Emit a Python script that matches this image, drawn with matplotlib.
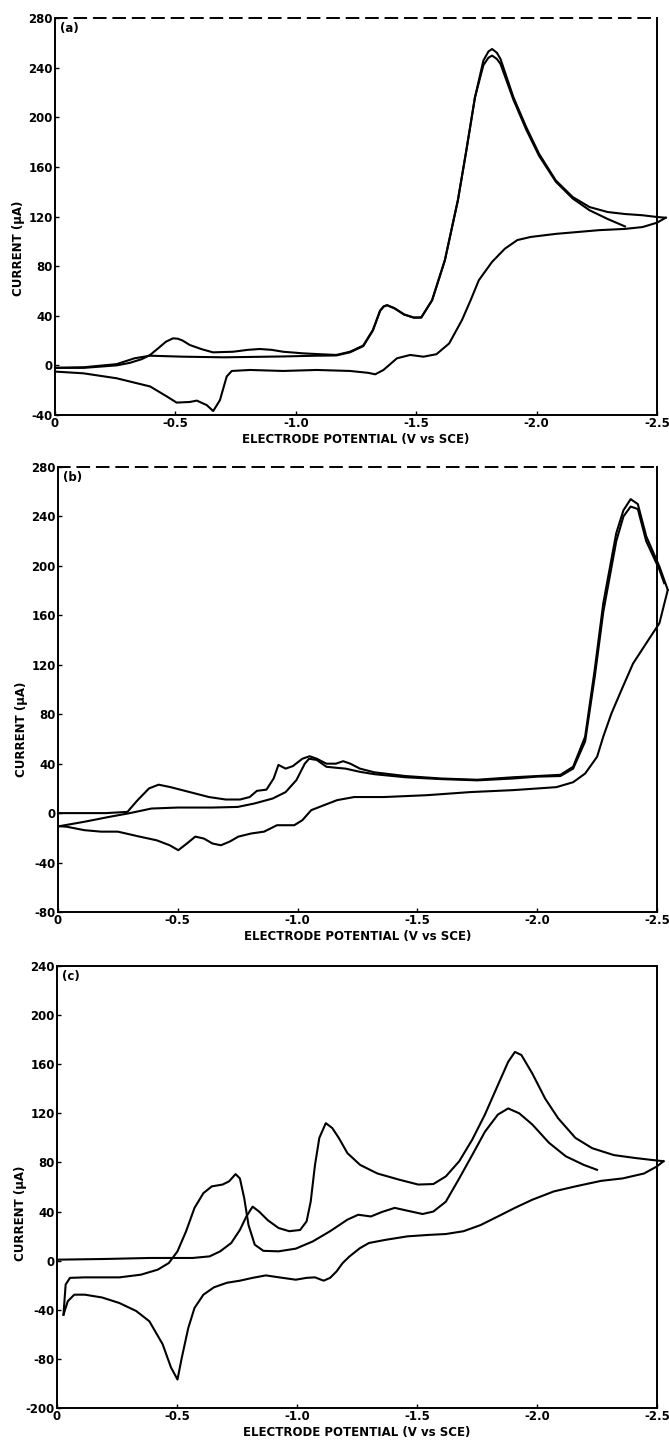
import matplotlib
matplotlib.use("Agg")
import matplotlib.pyplot as plt

# ---------------- data: panel (a) ----------------
a_fwd1_E = [0.0, -0.12, -0.256, -0.31, -0.36, -0.395, -0.43, -0.46, -0.49, -0.51, -0.53, -0.56,
            -0.61, -0.656, -0.74, -0.80, -0.85, -0.90, -0.947, -1.03, -1.10, -1.168, -1.225,
            -1.28, -1.32, -1.35, -1.365, -1.379, -1.41, -1.45, -1.49, -1.521, -1.566, -1.619,
            -1.673, -1.708, -1.744, -1.779, -1.80, -1.815, -1.835, -1.85, -1.904, -1.957,
            -2.01, -2.08, -2.15, -2.22, -2.295, -2.367, -2.44, -2.5, -2.536]
a_fwd1_I = [-2, -2, 0, 2, 5, 8.4, 14, 19, 21.8, 21.5, 20, 16.4,
            13, 10.5, 11, 12.5, 13.2, 12.5, 11, 9.7, 9, 8.4, 11,
            16, 28.5, 44, 47.5, 48.5, 46, 41, 38.5, 38.6, 52.5, 84.7,
            133, 173, 216, 245.7, 253, 255, 252, 247, 216, 192,
            170.6, 149, 135.7, 127.6, 123.6, 122, 121, 119.6, 119]

a_rev_E = [-2.536, -2.5, -2.44, -2.367, -2.26, -2.08, -1.975, -1.92, -1.868, -1.815, -1.76,
           -1.726, -1.69, -1.637, -1.584, -1.53, -1.475, -1.42, -1.364, -1.33, -1.30, -1.225,
           -1.087, -0.947, -0.81, -0.734, -0.713, -0.685, -0.657, -0.63, -0.589, -0.56,
           -0.505, -0.464, -0.395, -0.256, -0.118, 0.0]
a_rev_I = [119, 115, 111.5, 110, 109, 106, 103.5, 101, 94, 83.4, 68.6,
           52.5, 36.5, 17.7, 9, 7, 8.4, 5.7, -3.7, -7.2, -6, -4.5,
           -3.7, -4.5, -3.7, -4.5, -9, -28, -36.8, -32, -28.4, -29.5,
           -30, -25, -17, -10.4, -6.4, -5]

a_fwd2_E = [0.0, -0.12, -0.256, -0.33, -0.395, -0.532, -0.70, -0.81, -0.95, -1.087, -1.168,
            -1.225, -1.28, -1.32, -1.35, -1.365, -1.379, -1.41, -1.45, -1.49, -1.521, -1.566,
            -1.619, -1.673, -1.708, -1.744, -1.779, -1.80, -1.815, -1.835, -1.85, -1.904,
            -1.957, -2.01, -2.08, -2.15, -2.22, -2.295, -2.367]
a_fwd2_I = [-2, -1.5, 1, 5.7, 7.8, 7, 6.5, 6.8, 7.2, 7.8, 8,
            10.5, 15.5, 28, 44, 47.5, 48.5, 46, 41, 38.5, 38.6, 52.5,
            84.7, 133, 173, 216, 242, 248, 249.7, 247, 243, 214,
            190, 169, 148, 134.5, 125, 118, 112]

# ---------------- data: panel (b) ----------------
b_fwd1_E = [0.0, -0.1, -0.2, -0.29, -0.33, -0.38, -0.42, -0.47, -0.55, -0.63, -0.70, -0.76,
            -0.80, -0.83, -0.87, -0.90, -0.92, -0.95, -0.98, -1.02, -1.05, -1.08, -1.12,
            -1.16, -1.19, -1.22, -1.26, -1.32, -1.45, -1.6, -1.75, -1.9, -2.0, -2.097, -2.15,
            -2.20, -2.24, -2.276, -2.33, -2.36, -2.39, -2.42, -2.455, -2.51, -2.545]
b_fwd1_I = [0, 0, 0, 1, 10, 20, 23, 21, 17, 13, 11, 11,
            13, 18, 19, 28, 39, 36, 38, 44, 46, 44, 40,
            40, 42, 40, 36, 33, 30, 28, 27, 29, 30, 31, 37.5,
            61.8, 116, 170, 226.5, 245, 254, 250, 224, 199.5, 180.6]

b_rev_E = [-2.545, -2.51, -2.455, -2.4, -2.357, -2.31, -2.276, -2.25, -2.2, -2.15, -2.08,
           -1.9, -1.72, -1.54, -1.36, -1.236, -1.165, -1.11, -1.057, -1.02, -0.986, -0.914,
           -0.86, -0.806, -0.753, -0.717, -0.68, -0.645, -0.609, -0.573, -0.538, -0.502,
           -0.466, -0.412, -0.34, -0.25, -0.18, -0.11, -0.036, -0.005]
b_rev_I = [180.6, 153.6, 137.4, 121, 102, 80.7, 62, 45.6, 32, 25, 21,
           18.6, 17, 14.5, 13, 13, 10.5, 6.4, 2.4, -5.7, -9.8, -9.8,
           -15, -16.5, -19, -23, -26, -24.6, -20.6, -19, -24.6, -30,
           -26, -22, -19, -15, -15, -13.8, -11, -10.6]

b_fwd2_E = [-0.005, -0.11, -0.215, -0.3, -0.39, -0.5, -0.645, -0.75, -0.82, -0.896, -0.95,
            -0.995, -1.03, -1.048, -1.08, -1.12, -1.16, -1.2, -1.26, -1.32, -1.45, -1.6,
            -1.75, -1.9, -2.0, -2.097, -2.15, -2.20, -2.24, -2.276, -2.33, -2.36, -2.39,
            -2.42, -2.455, -2.51, -2.53]
b_fwd2_I = [-10.6, -7, -3, 0, 3.7, 4.5, 4.5, 5, 7.8, 11.8, 17,
            26.7, 40, 44, 43, 37.5, 36.7, 36, 33.4, 31.5, 29, 27.5,
            26.5, 28, 29.5, 30, 36,
            58, 110, 163, 220, 240, 248, 246, 220, 197, 186]

# ---------------- data: panel (c) ----------------
c_fwd1_E = [0.0, -0.206, -0.385, -0.565, -0.636, -0.68, -0.726, -0.762, -0.789, -0.815, -0.842,
            -0.878, -0.923, -0.968, -1.013, -1.04, -1.057, -1.075, -1.093, -1.12, -1.147,
            -1.174, -1.21, -1.263, -1.335, -1.425, -1.505, -1.568, -1.62, -1.676, -1.73,
            -1.783, -1.837, -1.88, -1.908, -1.935, -1.98, -2.034, -2.088, -2.16, -2.23,
            -2.32, -2.41, -2.48, -2.527]
c_fwd1_I = [0.8, 1.4, 2.2, 2.2, 3.5, 7.6, 14.4, 25, 36, 44, 40,
            33, 26.6, 24, 25, 32, 48, 78, 100, 112, 108,
            100, 87.6, 78, 71, 66, 62, 62.4, 68.6, 81, 98.5,
            119, 143, 162, 170, 167.5, 152.6, 132, 116, 100, 91.6,
            86, 83.6, 82, 81]

c_rev_E = [-2.527, -2.5, -2.446, -2.357, -2.267, -2.16, -2.07, -1.98, -1.908, -1.837, -1.765,
           -1.694, -1.62, -1.55, -1.46, -1.37, -1.3, -1.263, -1.219, -1.19, -1.165, -1.138,
           -1.111, -1.075, -1.04, -0.995, -0.94, -0.87, -0.815, -0.762, -0.708, -0.654,
           -0.61, -0.573, -0.547, -0.52, -0.502, -0.475, -0.44, -0.385, -0.33, -0.26,
           -0.188, -0.116, -0.072, -0.045, -0.027]
c_rev_I = [81, 76.8, 71, 67, 65, 60.5, 56.4, 49.6, 43, 36, 29,
           24, 21.7, 21, 19.8, 17, 14.4, 10.3, 3.5, -2, -8.7, -14,
           -16.3, -13.6, -14, -15.5, -14, -12, -14, -16.3, -18, -21.7,
           -27.7, -38.5, -54.8, -79, -96.8, -87, -68, -49.4, -41, -34.5,
           -30, -27.7, -27.7, -33, -44]

c_fwd2_E = [-0.027, -0.036, -0.054, -0.116, -0.26, -0.35, -0.42, -0.466, -0.502, -0.538,
            -0.573, -0.61, -0.645, -0.69, -0.717, -0.744, -0.762, -0.78, -0.798, -0.824,
            -0.86, -0.923, -0.995, -1.066, -1.138, -1.21, -1.255, -1.308, -1.353, -1.407,
            -1.46, -1.523, -1.568, -1.62, -1.676, -1.73, -1.783, -1.837, -1.88, -1.926,
            -1.98, -2.05, -2.12, -2.195, -2.25]
c_fwd2_I = [-44, -19.5, -14, -13.6, -13.6, -11.4, -7.3, -1.9, 7.6, 24,
            43, 55, 60.5, 62, 64.6, 70.5, 67, 51, 29, 13,
            8, 7.6, 9.8, 15.7, 24, 33.4, 37.4, 36, 39.6, 43,
            40.7, 38, 40, 48, 67, 86, 105, 119, 124, 120,
            111, 96, 85, 78, 74]

# ---------------- axis ticks / labels ----------------
x_ticks = [0.0, -0.5, -1.0, -1.5, -2.0, -2.5]
x_ticklabels = ["0", "-0.5", "-1.0", "-1.5", "-2.0", "-2.5"]
a_yticks = [-40, 0, 40, 80, 120, 160, 200, 240, 280]
a_yticklabels = ["-40", "0", "40", "80", "120", "160", "200", "240", "280"]
b_yticks = [-80, -40, 0, 40, 80, 120, 160, 200, 240, 280]
b_yticklabels = ["-80", "-40", "0", "40", "80", "120", "160", "200", "240", "280"]
c_yticks = [-120, -80, -40, 0, 40, 80, 120, 160, 200, 240]
c_yticklabels = ["-200", "-80", "-40", "0", "40", "80", "120", "160", "200", "240"]
panel_tags = ["(a)", "(b)", "(c)"]
x_label = "ELECTRODE POTENTIAL (V vs SCE)"
y_label = "CURRENT (\u00b5A)"

plt.rcParams['font.family'] = ['DejaVu Sans']
plt.rcParams['font.weight'] = 'bold'

W, H = 669, 1446
fig = plt.figure(figsize=(W / 100, H / 100), dpi=100)

def rect(left, right, top, bottom):
    return [left / W, (H - bottom) / H, (right - left) / W, (bottom - top) / H]

axes_rects = [rect(55, 657, 18, 415), rect(58, 657, 467, 912), rect(57, 657, 966, 1408)]
ylims = [(-40, 280), (-80, 280), (-120, 240)]
yticks = [a_yticks, b_yticks, c_yticks]
yticklabels = [a_yticklabels, b_yticklabels, c_yticklabels]
ylab_pos = [0.42, 0.41, 0.44]
curves = [
    [(a_fwd1_E, a_fwd1_I), (a_rev_E, a_rev_I), (a_fwd2_E, a_fwd2_I)],
    [(b_fwd1_E, b_fwd1_I), (b_rev_E, b_rev_I), (b_fwd2_E, b_fwd2_I)],
    [(c_fwd1_E, c_fwd1_I), (c_rev_E, c_rev_I), (c_fwd2_E, c_fwd2_I)],
]

for k in range(3):
    ax = fig.add_axes(axes_rects[k])
    for E, I in curves[k]:
        ax.plot(E, I, color='black', lw=1.5, solid_joinstyle='round', clip_on=False)
    ax.set_xlim(0, -2.5)
    ax.set_ylim(*ylims[k])
    ax.set_xticks(x_ticks)
    ax.set_xticklabels(x_ticklabels, fontsize=8.5, fontweight='bold')
    ax.set_yticks(yticks[k])
    ax.set_yticklabels(yticklabels[k], fontsize=8.5, fontweight='bold')
    ax.tick_params(axis='both', length=3, width=1, direction='in', pad=1.5)
    for s in ax.spines.values():
        s.set_linewidth(1.4)
    if k < 2:
        ax.spines['top'].set_linestyle((0, (6, 4)))
    ax.set_xlabel(x_label, fontsize=8.5, fontweight='bold', labelpad=2)
    ax.set_ylabel(y_label, fontsize=8.5, fontweight='bold')
    ax.yaxis.set_label_coords(-0.05, ylab_pos[k])
    ax.text(0.008, 0.99, panel_tags[k], transform=ax.transAxes, ha='left', va='top',
            fontsize=8.5, fontweight='bold')

fig.savefig("out.png", dpi=100)
